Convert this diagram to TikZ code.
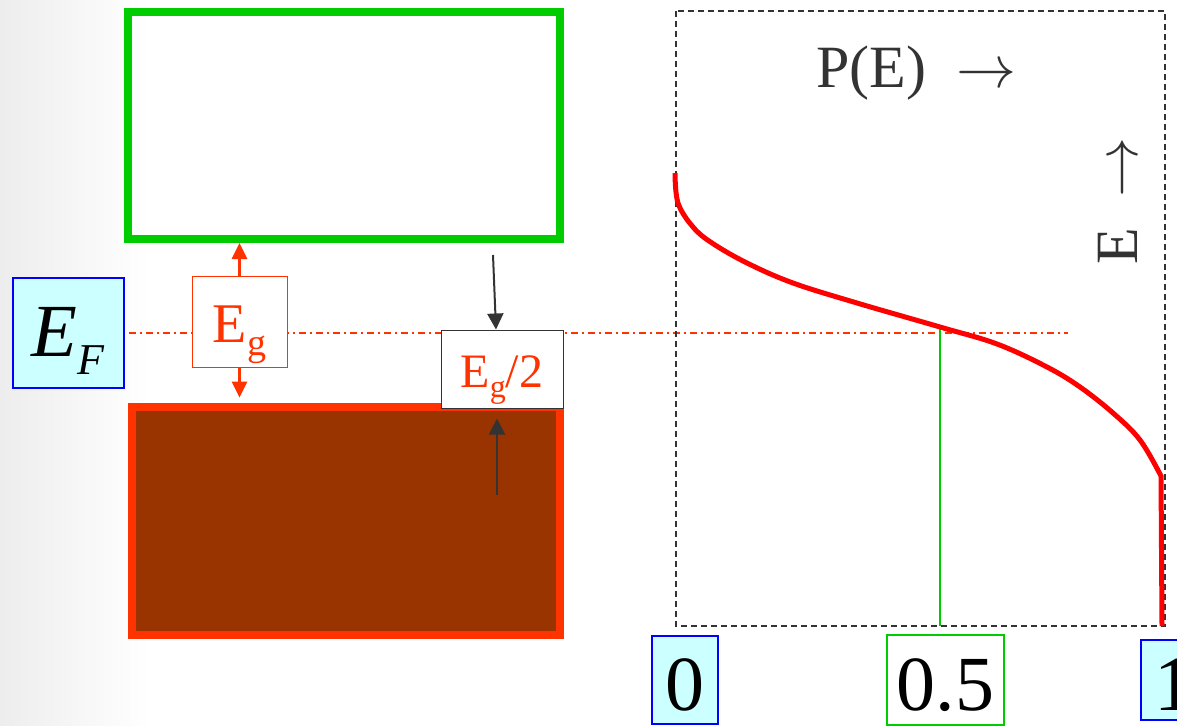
\RequirePackage{fix-cm}
\documentclass[tikz,border=0pt]{standalone}
\usepackage{fontspec}
\setmainfont{Liberation Serif}
\usetikzlibrary{arrows.meta}
\definecolor{bandgreen}{HTML}{00CC00}
\definecolor{bandred}{HTML}{FF3300}
\definecolor{bandbrown}{HTML}{993300}
\definecolor{lblcyan}{HTML}{CCFFFF}
\definecolor{inkgray}{HTML}{333333}
\tikzset{
  band/.style={draw,line width=8pt,inner sep=0pt},
  gapbox/.style={draw,fill=white,inner sep=0pt,text=bandred},
  lblbox/.style={draw,line width=1.2pt,inner sep=0pt,
    font=\fontsize{78}{78}\selectfont,text height=60pt,text depth=0pt},
  egarrow/.style={bandred,line width=3pt,-{Triangle[width=15pt,length=16pt]}},
  gaparrow/.style={inkgray,line width=2pt,-{Triangle[width=16pt,length=16pt]}},
  fermiline/.style={bandred,line width=1.2pt,dash pattern=on 7pt off 4pt on 2pt off 4pt},
  framedash/.style={inkgray,line width=1.5pt,dash pattern=on 6pt off 4pt},
}
\begin{document}
\begin{tikzpicture}[x=1pt,y=-1pt]
  \useasboundingbox (0,0) rectangle (1177,725);
  \clip (0,0) rectangle (1177,725);
  \fill[white] (0,0) rectangle (1177,725);
  \shade[left color=black!7,right color=white] (0,0) rectangle (150,725);
  % bands
  \node[band,bandgreen,minimum width=432pt,minimum height=227pt] (cband) at (344,125.5) {};
  \node[band,bandred,fill=bandbrown,minimum width=428pt,minimum height=228.5pt] (vband) at (345.5,520.8) {};
  % Fermi level
  \node[draw=blue,line width=1.2pt,fill=lblcyan,inner sep=0pt,minimum width=111pt,minimum height=110pt,
    font=\fontsize{75}{75}\selectfont,text height=50pt,text depth=4pt] (ef) at (68.5,333)
    {\textit{E}\raisebox{-18pt}{\fontsize{44}{44}\selectfont\textit{F}}};
  \coordinate (efend) at (1068,333);
  \draw[fermiline] ([xshift=4pt]ef.east) -- (efend);
  % gap labels
  \node[gapbox,draw=bandred,line width=0.8pt,minimum width=95pt,minimum height=91pt,
    font=\fontsize{56}{56}\selectfont,text height=41pt,text depth=0pt] (eg) at (239.5,321.5)
    {E\raisebox{-13pt}{\fontsize{38}{38}\selectfont g}};
  \draw[egarrow] (eg.north) -- (eg.north |- cband.south);
  \draw[egarrow,shorten >=5pt] (eg.south) -- (eg.south |- vband.north);
  \node[gapbox,draw=inkgray,line width=1pt,minimum width=122pt,minimum height=78pt,
    font=\fontsize{48}{48}\selectfont,text height=36pt,text depth=0pt] (eghalf) at (502,369)
    {E\raisebox{-10pt}{\fontsize{32}{32}\selectfont g}/2};
  \coordinate (topin) at (493,255);
  \coordinate (botin) at (497,495);
  \draw[gaparrow] (topin) -- ([xshift=-6pt]eghalf.north);
  \draw[gaparrow,shorten >=10pt] (botin) -- ([xshift=-5pt]eghalf.south);
  % occupation probability
  \draw[framedash] (676,11) rectangle (1165,626);
  \node[anchor=base west,font=\fontsize{60}{60}\selectfont,text=inkgray] (ptitle) at (813,88)
    {P(E)\ \ $\rightarrow$};
  \node[anchor=base west,rotate=90,font=\fontsize{60}{60}\selectfont,text=inkgray] (etitle) at (1137,268)
    {E\ \ $\rightarrow$};
  \coordinate (half) at (940,327);
  \draw[bandgreen,line width=2pt] (half) -- (half |- 0,626);
  \draw[red,line width=5pt] plot[smooth,tension=0.6] coordinates {(675,173) (678,203) (693,227) (712,243)
    (747,263) (793,283) (857,303) (940,327) (997,344) (1047,367) (1080,387) (1113,413) (1140,440) (1161,476)}
    -- (1162,626);
  % scale labels
  \node[lblbox,draw=blue,fill=lblcyan,minimum width=66pt,inner ysep=14pt,anchor=base] (lzero) at (685,710) {0};
  \node[lblbox,draw=bandgreen,fill=white,minimum width=117pt,inner ysep=15pt,anchor=base] (lhalf) at (945.5,710) {0.5};
  \node[lblbox,draw=blue,fill=lblcyan,minimum width=66pt,inner ysep=10pt,anchor=base] (lone) at (1174,710) {1};
\end{tikzpicture}
\end{document}
